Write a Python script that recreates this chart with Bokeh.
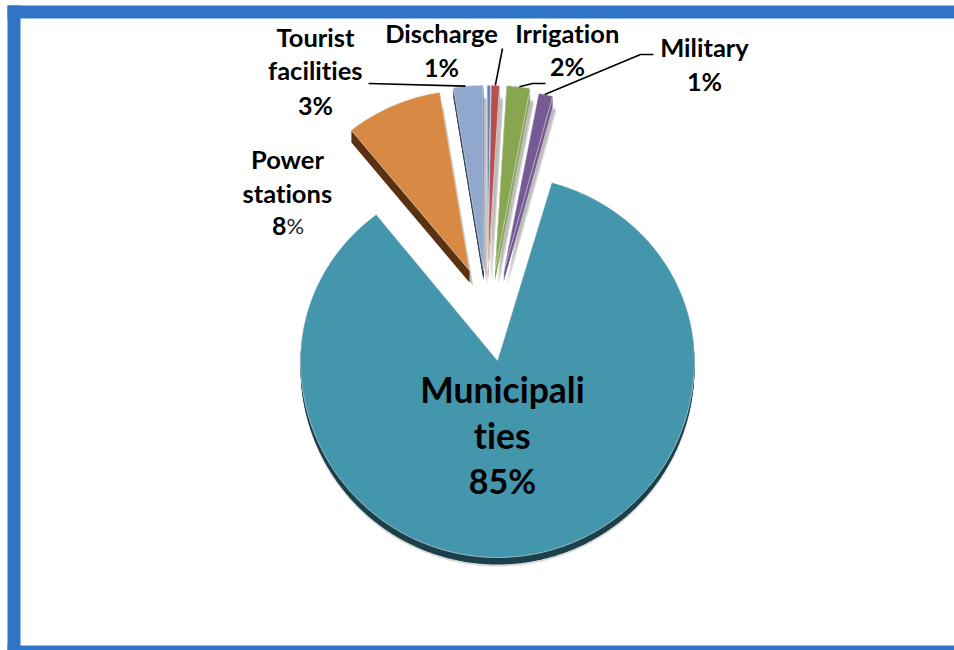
import numpy as np
from bokeh.plotting import figure
from bokeh.embed import file_html
from bokeh.resources import INLINE
from bokeh.core.properties import value

categories = ["Municipalities", "Power stations", "Tourist facilities", "Sliver", "Discharge", "Irrigation", "Military"]
values = [85, 8.3, 2.5, 0.3, 0.7, 2, 1.2]
top_colors = ["#4496AD", "#D88A45", "#8FA8CC", "#5B86C4", "#B5504E", "#88A550", "#755A94"]
side_colors = ["#1C3F4C", "#5A3212", "#38465F", "#9FB4D4", "#D9A3A2", "#88A550", "#755A94"]

# position of each slice's tip in the page (style, not data)
tips = [(497, 360), (469, 270), (483, 270), (487, 270), (487.5, 270), (494.5, 270), (503, 272)]
radii = [197, 188, 190, 190, 190, 190, 190]
depths = [7, 12, 10, 10, 10, 10, 10]
squash = [0.94, 0.96, 0.975, 0.975, 0.975, 0.975, 0.96]
turn = [1, 0, 0, 0, 0, 0, 0]
START = 15.0

label_texts = [
    ("Municipali", 502, 389, 35.5), ("ties", 502, 435, 35.5), ("85%", 502, 480, 34),
    ("Tourist", 315, 36, 25.5), ("facilities", 315, 69, 25.5), ("3%", 315, 104, 25),
    ("Power", 287, 158, 25.5), ("stations", 287, 192, 25.5),
    ("Discharge", 441, 32, 25.5), ("1%", 441, 66, 25),
    ("Irrigation", 567, 32, 25.5), ("2%", 567, 65, 25),
    ("Military", 704, 46, 25.5), ("1%", 704, 80, 25),
]


def slice_xy(a0, sweep, tip, r, k, dx=0, dy=0):
    th = np.radians(np.linspace(a0, a0 + sweep, max(3, int(sweep * 2))))
    c = np.cos(th)
    ks = np.where(c > 0, k, 1.0)
    xs = tip[0] + r * np.sin(th) + dx
    ys = tip[1] - r * c * ks + dy
    return [tip[0] + dx, *xs], [tip[1] + dy, *ys]


p = figure(width=954, height=650, x_range=(0, 954), y_range=(650, 0),
           output_backend="svg", toolbar_location=None, min_border=0,
           outline_line_color=None, background_fill_color="white", border_fill_color="white")
p.axis.visible = False
p.grid.visible = False
p.styles = {"font-variant-ligatures": "none"}

# frame
FRAME = "#2F74C5"
p.quad(left=[7, 7, 7], right=[20, 954, 954], top=[5, 5, 645], bottom=[650, 18, 650],
       fill_color=FRAME, line_color=None)

total = sum(values)
sweeps = [v / total * 360 for v in values]
starts = START + np.concatenate([[0], np.cumsum(sweeps)[:-1]]) + np.array(turn)

rims = {}
for i in range(len(values)):
    a0, sw, tip, r, d, k = starts[i], sweeps[i], tips[i], radii[i], depths[i], squash[i]
    shadows = (((4, d + 4), 0.28), ((3, d + 2), 0.35)) if i else (((0, d + 2), 0.3),)
    for off, al in shadows:
        x, y = slice_xy(a0, sw, tip, r, k, off[0], off[1])
        p.patch(x, y, fill_color="#808080", fill_alpha=al, line_color=None)
    for dy in range(1, d + 1):
        x, y = slice_xy(a0, sw, tip, r, k, 0, dy)
        p.patch(x, y, fill_color=side_colors[i], line_color=None)
    x, y = slice_xy(a0, sw, tip, r, k)
    p.patch(x, y, fill_color=top_colors[i], line_color="#F2F2F2", line_alpha=0.55, line_width=1)
    rims[categories[i]] = (x, y)


def rim_mid(name, frac=0.5):
    x, y = rims[name]
    j = 1 + int(frac * (len(x) - 2))
    return x[j], y[j]


# leader lines
leaders = [
    ([368], [83], "Tourist facilities", 0.45),
    ([502], [48], "Discharge", 0.55),
    ([545, 532], [83, 83], "Irrigation", 0.6),
    ([653, 640], [54, 54], "Military", 0.5),
]
for xs, ys, name, frac in leaders:
    ex, ey = rim_mid(name, frac)
    p.line(xs + [ex], ys + [ey], line_color="black", line_width=1.6)

for t, x, y, s in label_texts:
    p.text([x], [y], text=[t], text_font=value("Lato"), text_font_style="bold",
           text_font_size=f"{s}px", text_align="center", text_baseline="alphabetic", text_color="black")
# "8" bold followed by a regular "%"
p.text([286], [225], text=["8"], text_font=value("Lato"), text_font_style="bold", text_font_size="25px",
       text_align="right", text_baseline="alphabetic", text_color="black")
p.text([286], [225], text=["%"], text_font=value("Lato"), text_font_size="22px",
       text_align="left", text_baseline="alphabetic", text_color="#222222")

open("out.html", "w").write(file_html(p, INLINE))
